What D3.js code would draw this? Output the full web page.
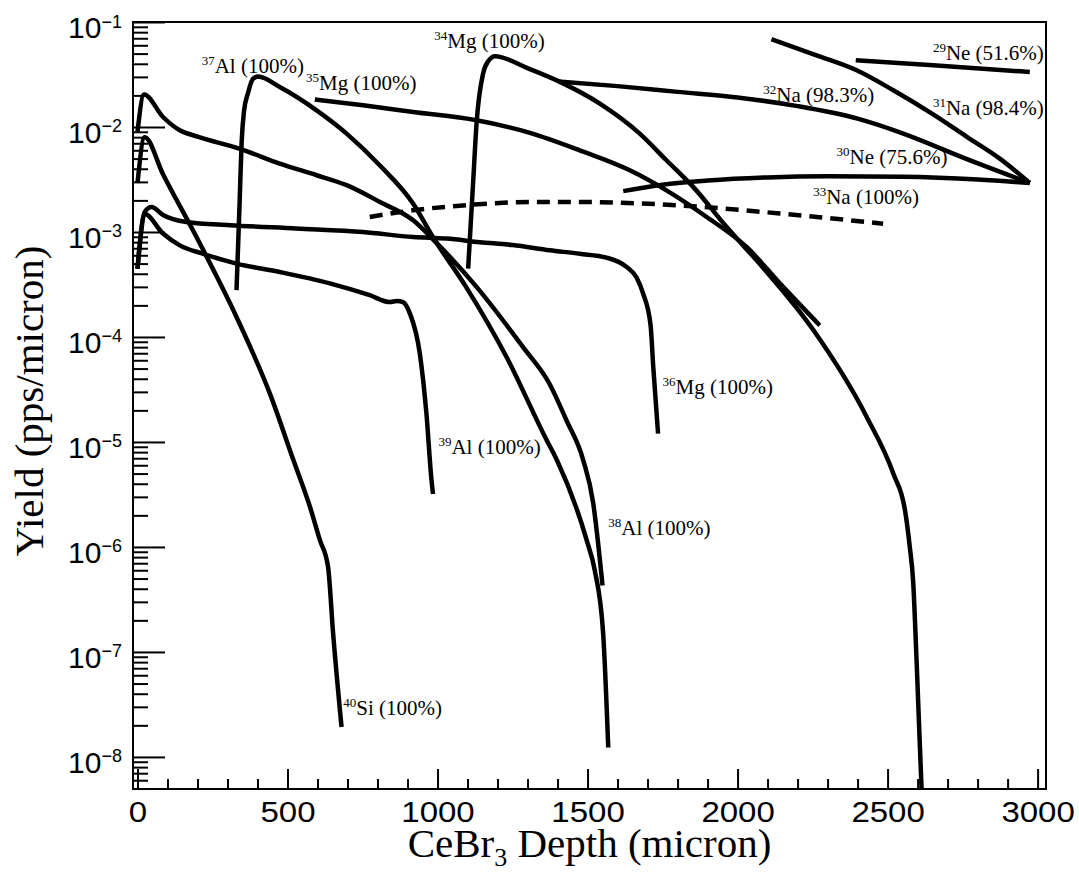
<!DOCTYPE html>
<html lang="en">
<head>
<meta charset="UTF-8"/>
<title>Yield vs CeBr3 depth</title>
<script src="https://d3js.org/d3.v7.min.js"></script>
<style>
    body { margin: 0; background: #fff; }
    svg { display: block; }
    .num { font-family: "Liberation Sans", Arial, Helvetica, sans-serif; fill: #000; }
    .ser { font-family: "Liberation Serif", "Times New Roman", serif; fill: #000; }
    .curve { fill: none; stroke: #000; stroke-width: 4.5px; stroke-linejoin: round; }
</style>
</head>
<body>
<div id="chart"></div>
<script>

// depth (micron), yield (pps/micron)
var si40 = [[0, 2.93e-3], [24, 8.0e-3], [85, 3.55e-3], [197, 8.9e-4], [330, 1.55e-4], [441, 2.9e-5],
    [519, 6.8e-6], [575, 2.4e-6], [608, 1.16e-6], [635, 6.5e-7], [652, 1.5e-7], [680, 1.93e-8]];
var al39 = [[0, 4.47e-4], [24, 1.48e-3], [85, 9.66e-4], [141, 7.46e-4], [219, 6.2e-4], [330, 5.0e-4],
    [474, 4.16e-4], [641, 3.24e-4], [774, 2.5e-4], [841, 2.15e-4], [865, 2.2e-4], [885, 2.15e-4],
    [908, 1.67e-4], [941, 6.95e-5], [963, 1.86e-5], [980, 4.3e-6], [985, 3.2e-6]];
var al38 = [[0, 9.0e-3], [22, 2.04e-2], [85, 1.245e-2], [141, 9.3e-3], [200, 8.1e-3], [341, 6.2e-3],
    [474, 4.48e-3], [597, 3.47e-3], [697, 2.79e-3], [808, 1.93e-3], [919, 1.29e-3], [985, 8.5e-4],
    [1130, 3.0e-4], [1285, 8.0e-5], [1374, 3.55e-5], [1430, 1.6e-5], [1485, 6.8e-6], [1519, 2.6e-6],
    [1535, 1.1e-6], [1550, 4.3e-7]];
var al37 = [[330, 2.79e-4], [340, 1.78e-3], [347, 7.1e-3], [355, 1.41e-2], [368, 2.09e-2], [385, 2.88e-2],
    [402, 3.02e-2], [474, 2.4e-2], [597, 1.44e-2], [697, 8.65e-3], [808, 4.3e-3], [919, 1.86e-3],
    [985, 8.9e-4], [1095, 3.0e-4], [1230, 6.45e-5], [1363, 1.05e-5], [1397, 6.8e-6], [1497, 1.16e-6],
    [1524, 6.0e-7], [1552, 1.5e-7], [1569, 1.23e-8]];
var mg36 = [[0, 4.47e-4], [24, 1.55e-3], [47, 1.73e-3], [85, 1.45e-3], [163, 1.245e-3], [308, 1.16e-3],
    [530, 1.08e-3], [752, 1.0e-3], [919, 8.95e-4], [1030, 8.65e-4], [1141, 8.0e-4], [1250, 7.5e-4],
    [1374, 6.7e-4], [1474, 6.2e-4], [1563, 5.7e-4], [1630, 4.65e-4], [1663, 3.7e-4], [1685, 2.6e-4],
    [1710, 1.3e-4], [1719, 5.2e-5], [1735, 1.2e-5]];
var mg35 = [[591, 1.824e-2], [752, 1.61e-2], [919, 1.39e-2], [1130, 1.159e-2], [1308, 8.8e-3],
    [1474, 6.0e-3], [1641, 3.87e-3], [1763, 2.49e-3], [1897, 1.39e-3], [2030, 7.2e-4], [2141, 3.24e-4],
    [2274, 1.29e-4]];
var mg34 = [[1102, 4.47e-4], [1119, 3.1e-3], [1130, 1.076e-2], [1152, 3.24e-2], [1170, 4.27e-2],
    [1191, 4.73e-2], [1300, 3.63e-2], [1408, 2.69e-2], [1541, 1.67e-2], [1674, 8.65e-3], [1763, 4.82e-3],
    [1852, 2.69e-3], [1963, 1.12e-3], [2085, 4.57e-4], [2252, 1.17e-4], [2430, 1.74e-5], [2519, 5.0e-6],
    [2558, 2.24e-6], [2574, 1.0e-6], [2585, 4.8e-7], [2597, 7.8e-8], [2613, 5.2e-9], [2618, 2.5e-9]];
var na33 = [[774, 1.39e-3], [919, 1.61e-3], [1085, 1.79e-3], [1308, 1.93e-3], [1474, 1.93e-3],
    [1808, 1.79e-3], [2141, 1.5e-3], [2485, 1.2e-3]];
var na32 = [[1402, 2.72e-2], [1600, 2.45e-2], [1800, 2.16e-2], [2000, 1.91e-2], [2200, 1.58e-2],
    [2400, 1.2e-2], [2550, 8.7e-3], [2760, 5.0e-3], [2974, 2.93e-3]];
var ne30 = [[1619, 2.45e-3], [1750, 2.82e-3], [1900, 3.09e-3], [2100, 3.31e-3], [2300, 3.39e-3],
    [2550, 3.35e-3], [2800, 3.16e-3], [2974, 2.93e-3]];
var na31 = [[2113, 6.87e-2], [2263, 4.82e-2], [2397, 3.47e-2], [2519, 2.24e-2], [2652, 1.32e-2],
    [2763, 8.1e-3], [2874, 5.0e-3], [2974, 2.93e-3]];
var ne29 = [[2394, 4.32e-2], [2652, 3.87e-2], [2974, 3.34e-2]];

// isotope tags: mass number, element, fraction
var tagMass = ["29", "31", "30", "33", "32", "37", "35", "34", "39", "36", "38", "40"];
var tagElem = ["Ne", "Na", "Ne", "Na", "Na", "Al", "Mg", "Mg", "Al", "Mg", "Al", "Si"];
var tagPct = ["51.6%", "98.4%", "75.6%", "100%", "98.3%", "100%", "100%", "100%", "100%", "100%", "100%", "100%"];
// where each tag sits, in depth / yield
var tagDepth = [2651, 2651, 2330, 2252, 2086, 214, 562, 989, 1003, 1750, 1569, 686];
var tagYield = [4.32e-2, 1.29e-2, 4.48e-3, 1.84e-3, 1.73e-2, 3.27e-2, 2.24e-2, 5.6e-2, 7.76e-6, 2.89e-5, 1.29e-6, 2.5e-8];

var xMajor = [0, 500, 1000, 1500, 2000, 2500, 3000];

var margin = {top: 22, right: 33, bottom: 83, left: 133},
    width = 1079 - margin.left - margin.right,
    height = 872 - margin.top - margin.bottom;

var svg = d3.select("#chart")
    .append("svg")
    .attr("width", width + margin.left + margin.right)
    .attr("height", height + margin.top + margin.bottom)
    .append("g")
    .attr("transform", "translate(" + margin.left + "," + margin.top + ")");

var x = d3.scaleLinear().domain([-15, 3028]).range([0, width]);
var y = d3.scaleLog().domain([4.95e-9, 0.1]).range([height, 0]);

svg.append("clipPath").attr("id", "frame-clip")
    .append("rect").attr("width", width).attr("height", height);

// x axis: majors every 500, minors every 100, ticks pointing inward
var xMinor = d3.range(0, 3001, 100).filter(function (v) { return v % 500 !== 0; });

var gxMinor = svg.append("g")
    .attr("transform", "translate(0," + height + ")")
    .call(d3.axisBottom(x).tickValues(xMinor).tickSizeInner(-10).tickSizeOuter(0).tickFormat(""));
var gx = svg.append("g")
    .attr("transform", "translate(0," + height + ")")
    .call(d3.axisBottom(x).tickValues(xMajor).tickSizeInner(-20).tickSizeOuter(0).tickFormat(d3.format("d")));
gx.selectAll(".tick text")
    .attr("class", "num")
    .attr("y", 33)
    .attr("dy", null)
    .attr("font-size", "30px")
    .attr("transform", "scale(1.1,1)");

// y axis: decades with 2..9 minors
var decades = d3.range(-8, 0).map(function (e) { return Math.pow(10, e); });
var yMinor = [];
d3.range(-9, -1).forEach(function (e) {
    for (var k = 2; k <= 9; k++) {
        var v = k * Math.pow(10, e);
        if (v >= y.domain()[0] && v < y.domain()[1]) yMinor.push(v);
    }
});

var gyMinor = svg.append("g")
    .call(d3.axisLeft(y).tickValues(yMinor).tickSizeInner(-15).tickSizeOuter(0).tickFormat(""));
var gy = svg.append("g")
    .call(d3.axisLeft(y).tickValues(decades).tickSizeInner(-32).tickSizeOuter(0).tickFormat(""));

gy.selectAll(".tick").each(function (d) {
    var e = Math.round(Math.log10(d));
    var t = d3.select(this).append("text")
        .attr("class", "num")
        .attr("x", -11)
        .attr("y", 15.5)
        .attr("text-anchor", "end");
    t.append("tspan").attr("font-size", "30px").text("10");
    t.append("tspan").attr("font-size", "18px").attr("dy", -10.5).text("\u2212" + Math.abs(e));
});

[gx, gxMinor, gy, gyMinor].forEach(function (g) {
    g.select(".domain").remove();
    g.selectAll(".tick line").attr("stroke", "#000").attr("stroke-width", 2);
});

// frame
svg.append("rect")
    .attr("width", width)
    .attr("height", height)
    .attr("fill", "none")
    .attr("stroke", "#000")
    .attr("stroke-width", 2);

// curves
var line = d3.line()
    .x(function (d) { return x(d[0]); })
    .y(function (d) { return y(d[1]); })
    .curve(d3.curveMonotoneX);

var curves = [si40, al39, al38, al37, mg36, mg35, mg34, na33, na32, ne30, na31, ne29];

svg.append("g")
    .attr("clip-path", "url(#frame-clip)")
    .selectAll("path")
    .data(curves)
    .enter()
    .append("path")
    .attr("class", "curve")
    .attr("stroke-dasharray", function (d) { return d === na33 ? "13,8" : null; })
    .attr("d", line);

// isotope tags
tagMass.forEach(function (m, i) {
    var t = svg.append("text")
        .attr("class", "ser")
        .attr("x", x(tagDepth[i]))
        .attr("y", y(tagYield[i]));
    t.append("tspan").attr("font-size", "13px").attr("dy", -8).text(m);
    t.append("tspan").attr("font-size", "21px").attr("dy", 8).text(tagElem[i] + " (" + tagPct[i] + ")");
});

// axis titles
var xt = svg.append("text")
    .attr("class", "ser")
    .attr("x", width / 2)
    .attr("y", height + 68)
    .attr("text-anchor", "middle")
    .attr("font-size", "41px");
xt.append("tspan").text("CeBr");
xt.append("tspan").attr("font-size", "26px").attr("dy", 9).text("3");
xt.append("tspan").attr("dy", -9).text(" Depth (micron)");

svg.append("text")
    .attr("class", "ser")
    .attr("transform", "translate(" + (43 - margin.left) + "," + (401 - margin.top) + ") rotate(-90)")
    .attr("text-anchor", "middle")
    .attr("font-size", "41px")
    .text("Yield (pps/micron)");

</script>
</body>
</html>
